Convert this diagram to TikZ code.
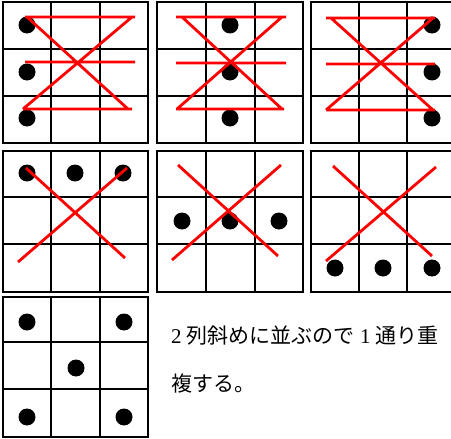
\documentclass[tikz,border=0pt]{standalone}
\usepackage{fontspec}
\setmainfont{Liberation Serif}
\newfontfamily\jp{Noto Sans CJK JP}
\begin{document}
\begin{tikzpicture}[x=1pt,y=-1pt,
  gridline/.style={black,line width=1.6pt},
  redline/.style={red,line width=2.8pt},
  dot/.style={fill=black}]
\useasboundingbox (0,0) rectangle (451,439);
\clip (0,0) rectangle (451,439);
\foreach \xa/\xb/\xc/\xd in {3/51/100/148,157/206/255/303,311/359/407/455}{
  \foreach \ya/\yb/\yc/\yd in {2/49/96/143,151/197/244/292}{
    \draw[gridline] (\xa,\ya) rectangle (\xd,\yd);
    \draw[gridline] (\xb,\ya) -- (\xb,\yd) (\xc,\ya) -- (\xc,\yd)
                    (\xa,\yb) -- (\xd,\yb) (\xa,\yc) -- (\xd,\yc);
  }
}
\draw[gridline] (3,297) rectangle (148,437);
\draw[gridline] (51,297) -- (51,437) (100,297) -- (100,437)
                (3,342) -- (148,342) (3,389) -- (148,389);
% dots row 1
\foreach \x in {27,230,432}{
  \foreach \y in {25,72,118}{ \fill[dot] (\x,\y) circle (8.5); }
}
% dots row 2
\foreach \x in {27,75,123}{ \fill[dot] (\x,173) circle (8.5); }
\foreach \x in {182,230,279}{ \fill[dot] (\x,221) circle (8.5); }
\foreach \x in {335,383,432}{ \fill[dot] (\x,268) circle (8.5); }
% dots row 3
\foreach \p in {(27,322),(124,322),(76,368),(27,417),(124,417)}{ \fill[dot] \p circle (8.5); }
% red lines row 1
\draw[redline] (25,17) -- (135,17) (25,62) -- (135,62) (23,109) -- (132,109)
               (27,17) -- (128,109) (132,17) -- (23,109);
\draw[redline] (176,17) -- (286,17) (176,63) -- (286,63) (176,109) -- (284,109)
               (182,17) -- (282,109) (282,17) -- (177,109);
\draw[redline] (326,18) -- (435,18) (326,64) -- (435,64) (326,110) -- (435,110)
               (331,18) -- (433,110) (433,18) -- (326,110);
% red lines row 2
\draw[redline] (26,168) -- (125,258) (127,168) -- (18,262);
\draw[redline] (178,165) -- (278,256) (281,165) -- (172,260);
\draw[redline] (333,166) -- (432,256) (436,167) -- (326,261);
% text
\node[anchor=base west,inner sep=0pt,font=\fontsize{21}{25}\selectfont] (t1) at (171,343)
  {2 {\jp 列斜めに並ぶので} 1 {\jp 通り重}};
\node[anchor=base west,inner sep=0pt,font=\fontsize{21}{25}\selectfont] (t2) at (171,391)
  {{\jp 複する。}};
\end{tikzpicture}
\end{document}
